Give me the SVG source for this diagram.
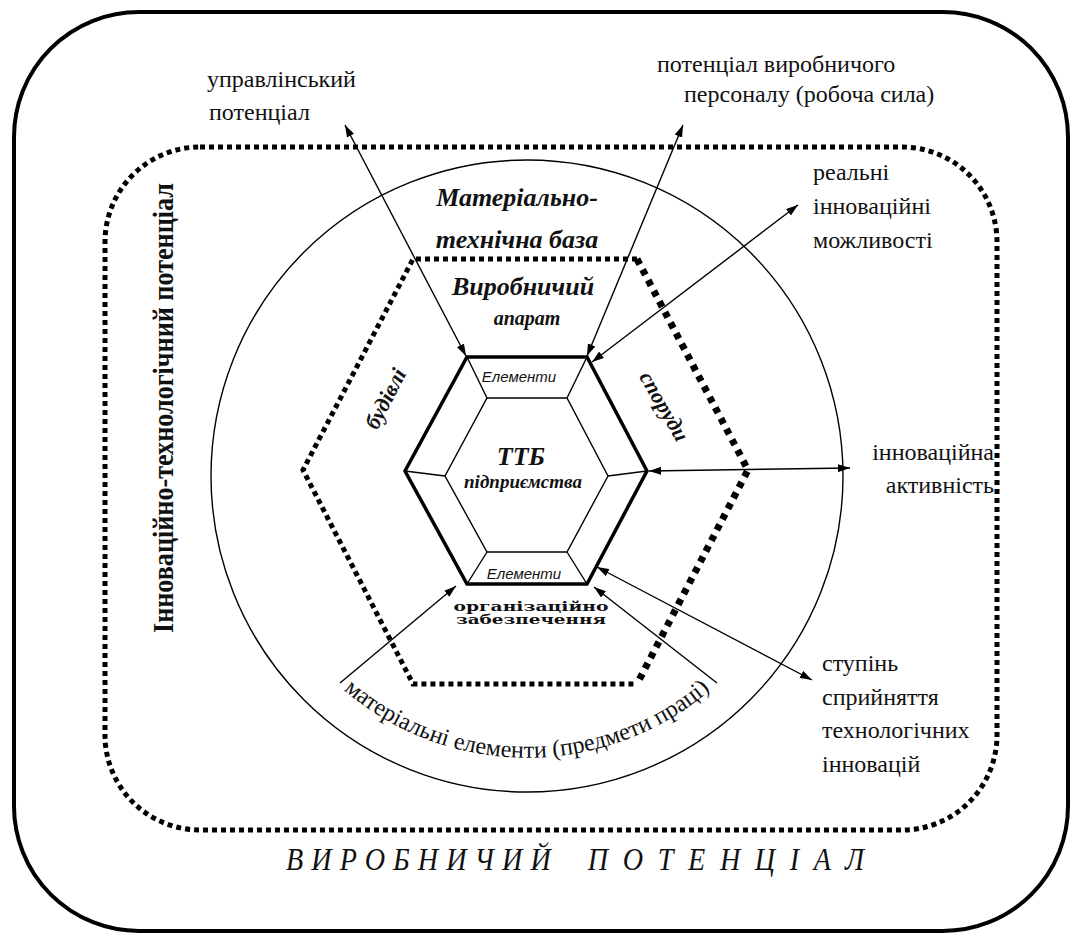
<svg xmlns="http://www.w3.org/2000/svg" width="1079" height="935" viewBox="0 0 1079 935">
<style>
.lbl{font-family:"Liberation Serif","Times New Roman",serif;fill:#111}
.bi{font-family:"Liberation Serif","Times New Roman",serif;font-weight:bold;font-style:italic;fill:#111}
.el{font-family:"Liberation Sans",Arial,sans-serif;font-style:italic;font-size:15px;fill:#111}
.dot{fill:none;stroke:#000;stroke-linecap:butt}
.thin{fill:none;stroke:#000;stroke-width:1.4}
.conn{stroke:#000;stroke-width:1.4;fill:none}
</style>
<defs>
<marker id="ah" viewBox="0 0 12 8" refX="12" refY="4" markerWidth="12" markerHeight="8" markerUnits="userSpaceOnUse" orient="auto-start-reverse">
<path d="M0,0 L12,4 L0,8 z" fill="#000"/>
</marker>
<path id="arcText" d="M 311,657 A 282 282 0 0 0 743,657"/>
</defs>
<rect x="0" y="0" width="1079" height="935" fill="#fff"/>

<g id="vyrobnychyi-potentsial">
<rect x="14" y="12" width="1054" height="919" rx="125" ry="125" fill="none" stroke="#000" stroke-width="4"/>
<g transform="translate(286,870) scale(0.88,1)">
<text class="lbl" x="0" y="0" font-style="italic" font-size="32" textLength="301" lengthAdjust="spacing">ВИРОБНИЧИЙ</text>
<text class="lbl" x="343" y="0" font-style="italic" font-size="32" textLength="314" lengthAdjust="spacing">ПОТЕНЦІАЛ</text>
</g>
</g>

<g id="innovatsiino-tekhnolohichnyi">
<rect x="105" y="147" width="892" height="683" rx="95" ry="95" class="dot" stroke-width="5" stroke-dasharray="5 4"/>
<text class="lbl" font-weight="bold" font-size="29" text-anchor="middle" transform="translate(173,408) rotate(-90)" textLength="450" lengthAdjust="spacingAndGlyphs">Інноваційно-технологічний потенціал</text>
</g>

<g id="materialno-tekhnichna-baza">
<circle cx="527" cy="476" r="316" class="thin"/>
<text class="bi" x="517" y="206" font-size="26" text-anchor="middle">Матеріально-</text>
<text class="bi" x="517" y="248" font-size="26" text-anchor="middle">технічна база</text>
<text class="lbl" font-size="24"><textPath href="#arcText" startOffset="50%" text-anchor="middle">матеріальні елементи (предмети праці)</textPath></text>
</g>

<g id="vyrobnychyi-aparat">
<polyline points="637,259 413,259 303,470 413,684 637,684" class="dot" stroke-width="5" stroke-dasharray="5 4"/>
<polyline points="637,259 748,470 637,684" class="dot" stroke-width="7" stroke-dasharray="6 6"/>
<text class="bi" x="523" y="295" font-size="26" text-anchor="middle">Виробничий</text>
<text class="bi" x="527" y="325" font-size="20" text-anchor="middle">апарат</text>
<text class="bi" font-size="22" text-anchor="middle" transform="translate(392,402) rotate(-63)">будівлі</text>
<text class="bi" font-size="22" text-anchor="middle" transform="translate(658,410) rotate(60)">споруди</text>
<text x="531" y="611" font-family="'DejaVu Serif',serif" font-weight="bold" font-size="13" text-anchor="middle" textLength="155" lengthAdjust="spacingAndGlyphs" fill="#111">організаційно</text>
<text x="531" y="624" font-family="'DejaVu Serif',serif" font-weight="bold" font-size="13" text-anchor="middle" textLength="150" lengthAdjust="spacingAndGlyphs" fill="#111">забезпечення</text>
</g>

<g id="ttb-pidpryiemstva">
<polygon points="467,357 587,357 647,471 587,584 467,584 405,471" fill="none" stroke="#000" stroke-width="3.5"/>
<polygon points="487,398 567,398 608,476 567,552 487,552 445,476" class="thin"/>
<line x1="467" y1="357" x2="487" y2="398" class="thin"/>
<line x1="587" y1="357" x2="567" y2="398" class="thin"/>
<line x1="647" y1="471" x2="608" y2="476" class="thin"/>
<line x1="587" y1="584" x2="567" y2="552" class="thin"/>
<line x1="467" y1="584" x2="487" y2="552" class="thin"/>
<line x1="405" y1="471" x2="445" y2="476" class="thin"/>
<text class="el" x="519" y="382" text-anchor="middle">Елементи</text>
<text class="el" x="524" y="579" text-anchor="middle">Елементи</text>
<text class="bi" x="521" y="465" font-size="26" text-anchor="middle">ТТБ</text>
<text class="bi" x="523" y="488" font-size="19" text-anchor="middle">підприємства</text>
</g>

<g id="upravlinskyi" class="lbl" font-size="24">
<text x="207" y="87">управлінський</text>
<text x="209" y="120">потенціал</text>
</g>
<g id="personal" class="lbl" font-size="24">
<text x="657" y="72">потенціал виробничого</text>
<text x="684" y="102">персоналу (робоча сила)</text>
</g>
<g id="realni" class="lbl" font-size="24">
<text x="813" y="180">реальні</text>
<text x="813" y="214">інноваційні</text>
<text x="813" y="248">можливості</text>
</g>
<g id="aktyvnist" class="lbl" font-size="24">
<text x="994" y="460" text-anchor="end">інноваційна</text>
<text x="994" y="493" text-anchor="end">активність</text>
</g>
<g id="stupin" class="lbl" font-size="24">
<text x="822" y="671">ступінь</text>
<text x="822" y="705">сприйняття</text>
<text x="822" y="738">технологічних</text>
<text x="822" y="772">інновацій</text>
</g>

<g id="connectors">
<line x1="345" y1="125" x2="466" y2="356" class="conn" marker-start="url(#ah)" marker-end="url(#ah)"/>
<line x1="683" y1="125" x2="587" y2="356" class="conn" marker-start="url(#ah)" marker-end="url(#ah)"/>
<line x1="798" y1="205" x2="592" y2="362" class="conn" marker-start="url(#ah)" marker-end="url(#ah)"/>
<line x1="649" y1="471" x2="850" y2="468" class="conn" marker-start="url(#ah)" marker-end="url(#ah)"/>
<line x1="812" y1="680" x2="597" y2="567" class="conn" marker-start="url(#ah)" marker-end="url(#ah)"/>
<line x1="717" y1="683" x2="594" y2="587" class="conn" marker-end="url(#ah)"/>
<line x1="340" y1="683" x2="456" y2="586" class="conn" marker-end="url(#ah)"/>
</g>
</svg>
